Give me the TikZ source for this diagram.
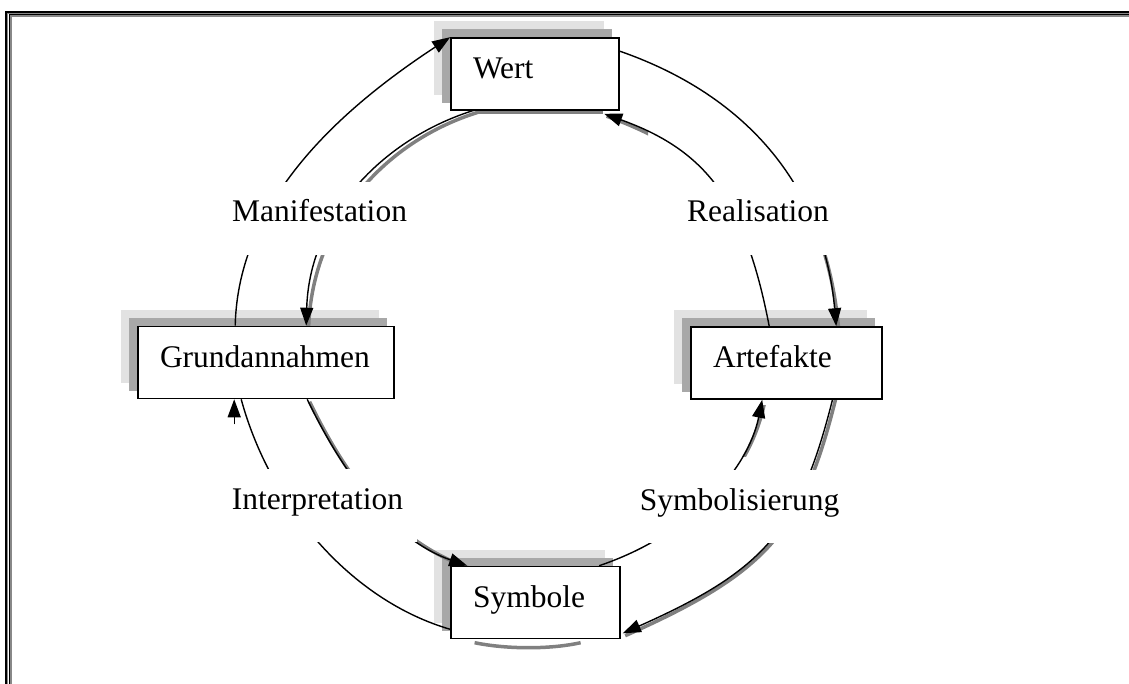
\documentclass[tikz,border=0pt]{standalone}
\usepackage{fontspec}
\setmainfont{Liberation Serif}
\usetikzlibrary{arrows.meta,calc}
\pgfdeclarelayer{back}
\pgfdeclarelayer{mid}
\pgfsetlayers{back,mid,main}
\definecolor{shdark}{RGB}{168,168,168}
\definecolor{shlight}{RGB}{226,226,226}
\definecolor{arcgray}{RGB}{128,128,128}
\definecolor{framegray}{RGB}{136,136,136}
\begin{document}
\begin{tikzpicture}[x=1pt,y=-1pt,
  box/.style={draw, line width=1.6pt, fill=white, inner xsep=22pt, inner ysep=0pt,
    minimum height=72pt, align=left, text height=21.5pt, text depth=12pt,
    font=\fontsize{31.5}{36}\selectfont},
  lbl/.style={fill=white, inner xsep=14pt, inner ysep=21pt, text height=19pt,
    text depth=12pt, anchor=base, font=\fontsize{31.5}{36}\selectfont},
  arcline/.style={line width=1.4pt},
  arrowline/.style={arcline, -{Triangle[length=18pt,width=13pt]}},
  arcshadow/.style={line width=3.5pt, arcgray, transform canvas={xshift=2.4pt,yshift=-2.4pt}},
]
\useasboundingbox (0,0) rectangle (1129,684);

% frame
\draw[line width=2pt] (1129,12) -- (6,12) -- (6,684);
\draw[line width=1pt, framegray] (1129,13.5) -- (7.5,13.5) -- (7.5,684);
\draw[line width=1pt] (1129,14.5) -- (9,14.5) -- (9,684);
\draw[line width=2pt, framegray] (1129,16) -- (11,16) -- (11,684);

% boxes
\node[box, text width=124pt] (wert) at (535,74) {Wert};
\node[box, text width=212pt] (grund) at (266,362.5) {Grundannahmen};
\node[box, text width=147pt] (arte) at (786.5,363) {Artefakte};
\node[box, text width=125pt] (symb) at (535.5,602.5) {Symbole};

% box shadows
\begin{pgfonlayer}{back}
\foreach \n in {wert,grund,arte,symb}{
  \fill[shlight] ([shift={(-16,-16)}]\n.south west) rectangle ([shift={(-16,-16)}]\n.north east);
  \fill[shdark] ([shift={(-8,-8)}]\n.south west) rectangle ([shift={(-8,-8)}]\n.north east);
}
\end{pgfonlayer}

% arc end points
\coordinate (a1s) at ([shift={(98,0)}]grund.north west);
\coordinate (a1e) at (wert.north west);
\coordinate (a2s) at ([shift={(89,-12)}]wert.south west);
\coordinate (a2e) at ([shift={(169,0)}]grund.north west);
\coordinate (a3s) at ([shift={(0,14)}]wert.north east);
\coordinate (a3e) at ([shift={(146,0)}]arte.north west);
\coordinate (a4s) at ([shift={(79,0)}]arte.north west);
\coordinate (a4e) at ([shift={(154,3)}]wert.south west);
\coordinate (a5s) at ([shift={(149,0)}]symb.north west);
\coordinate (a5e) at ([shift={(72,0)}]arte.south west);
\coordinate (a6s) at ([shift={(143,-3)}]arte.south west);
\coordinate (a6e) at ([shift={(2,-6)}]symb.south east);
\coordinate (a7s) at ([shift={(170,0)}]grund.south west);
\coordinate (a7e) at ([shift={(17,0)}]symb.north west);
\coordinate (a8s) at ([shift={(0,-10)}]symb.south west);
\coordinate (a8e) at ([shift={(104,0)}]grund.south west);
\coordinate (a9s) at ([shift={(97,25)}]grund.south west);
\coordinate (a9e) at ([shift={(97,0)}]grund.south west);
\coordinate (sm1) at ([shift={(22,1)}]symb.south west);
\coordinate (sm2) at ([shift={(128,1)}]symb.south west);
\coordinate (sw1) at ([shift={(26,-0.5)}]wert.south west);
\coordinate (sw2) at ([shift={(150,-0.5)}]wert.south west);

\begin{pgfonlayer}{mid}
% shadows of the heavier arcs
\draw[arcshadow] (a2s) .. controls (420,104) and (310,195) .. (a2e);
\draw[arcshadow] (a6s) .. controls (800,530) and (765,570) .. (a6e);
\draw[arcshadow] (a7s) .. controls (352,492) and (402,543) .. (a7e);
\draw[arcshadow] (sm1) .. controls (505,647) and (548,647) .. (sm2);
\draw[arcshadow] (sw1) -- (sw2);
\begin{scope}
  \clip (700,218) rectangle (900,330);
  \draw[arcshadow] (a3s) .. controls (760,100) and (825,200) .. (a3e);
\end{scope}
\begin{scope}
  \clip (595,100) rectangle (648,140);
  \draw[arcshadow] (a4s) .. controls (745,200) and (705,150) .. (a4e);
\end{scope}
\begin{scope}
  \clip (720,405) rectangle (780,456);
  \draw[arcshadow] (a5s) .. controls (690,535) and (748,470) .. (a5e);
\end{scope}
% arcs
\draw[arrowline] (a1s) .. controls (238,200) and (341,109) .. (a1e);
\draw[arrowline] (a2s) .. controls (420,104) and (310,195) .. (a2e);
\draw[arrowline] (a3s) .. controls (760,100) and (825,200) .. (a3e);
\draw[arrowline] (a4s) .. controls (745,200) and (705,150) .. (a4e);
\draw[arrowline] (a5s) .. controls (690,535) and (748,470) .. (a5e);
\draw[arrowline] (a6s) .. controls (800,530) and (765,570) .. (a6e);
\draw[arrowline] (a7s) .. controls (352,492) and (402,543) .. (a7e);
\draw[arcline] (a8s) .. controls (350,600) and (270,505) .. (a8e);
\draw[arrowline] (a9s) -- (a9e);
\end{pgfonlayer}

% labels
\node[lbl] (manif) at (319.5,222) {Manifestation};
\node[lbl] (real) at (758,222) {Realisation};
\node[lbl] (interp) at (317.5,509) {Interpretation};
\node[lbl] (symbol) at (739.5,510) {Symbolisierung};
\end{tikzpicture}
\end{document}
